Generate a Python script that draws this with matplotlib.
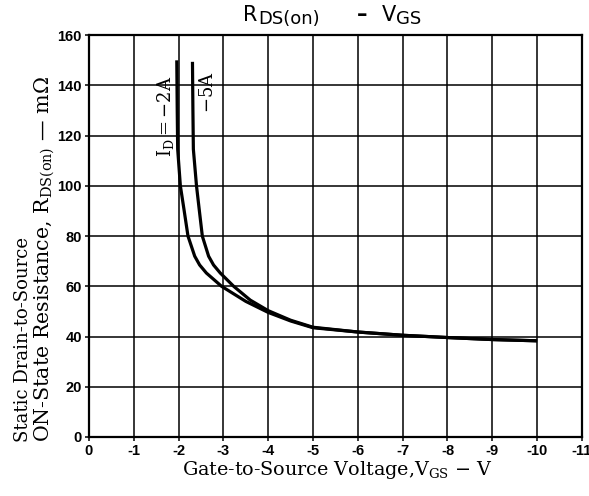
import numpy as np
import matplotlib as mpl
import matplotlib.pyplot as plt

mpl.rcParams['mathtext.fontset'] = 'dejavuserif'

# curve data
vgs_2a = [-1.96, -1.97, -1.98, -2.04, -2.12, -2.21, -2.36, -2.47, -2.62, -2.96, -3.5, -4.0,
          -4.5, -5.0, -6.0, -7.0, -8.0, -9.0, -10.0]
rds_2a = [150, 130, 114.6, 100, 90.7, 80, 72, 68.5, 65.3, 60, 54, 49.6,
          46.2, 43.5, 41.8, 40.5, 39.6, 38.8, 38.3]

vgs_5a = [-2.31, -2.32, -2.33, -2.40, -2.46, -2.53, -2.67, -2.78, -2.93, -3.23, -3.6, -4.0,
          -4.5, -5.0, -6.0, -7.0, -8.0, -9.0, -10.0]
rds_5a = [149.4, 130, 114.6, 100, 90.7, 80, 72, 68.5, 65.3, 60, 54.5, 50.3,
          46.5, 43.7, 41.8, 40.5, 39.6, 38.8, 38.3]

xticks = list(range(0, -12, -1))
xtick_labels = ['0'] + [str(v) for v in xticks[1:]]
yticks = list(range(0, 161, 20))

W, H = 589, 496
fig = plt.figure(figsize=(W / 100, H / 100), dpi=100)
ax = fig.add_axes([0.151, 0.119, 0.837, 0.810])

ax.plot(vgs_2a, rds_2a, color='black', lw=2.3, solid_capstyle='butt', solid_joinstyle='round')
ax.plot(vgs_5a, rds_5a, color='black', lw=2.3, solid_capstyle='butt', solid_joinstyle='round')

ax.set_xlim(0, -11)
ax.set_ylim(0, 160)
ax.set_xticks(xticks)
ax.set_xticklabels(xtick_labels)
ax.set_yticks(yticks)
ax.grid(True, color='black', lw=1.1)
ax.set_axisbelow(True)
for s in ax.spines.values():
    s.set_linewidth(1.6)
ax.tick_params(length=3, width=1.1, direction='out', pad=2)
for lab in ax.get_xticklabels() + ax.get_yticklabels():
    lab.set_fontfamily('Liberation Sans')
    lab.set_fontweight('bold')
    lab.set_fontsize(10.5)

# curve labels
ax.text(-1.70, 127.6, r'$\mathrm{I_D = -2A}$', rotation=90, ha='center', va='center',
        fontsize=13)
ax.text(-2.66, 137.5, r'$\mathrm{-5A}$', rotation=90, ha='center', va='center',
        fontsize=13)

# title, pieces placed in pixel coords
def ftext(x, y, s, **kw):
    fig.text(x / W, 1 - y / H, s, fontfamily='DejaVu Sans', **kw)

ftext(243, 21, 'R', fontsize=15, va='baseline')
ftext(258, 24, 'DS(on)', fontsize=13, va='baseline')
ftext(362, 15, '–', fontsize=15, fontweight='bold', ha='center', va='center')
ftext(382, 21, 'V', fontsize=15, va='baseline')
ftext(396, 24, 'GS', fontsize=13, va='baseline')

fig.text(337 / W, 1 - 470 / H, r'Gate-to-Source Voltage,$\mathrm{V_{GS}}$ $-$ V',
         ha='center', va='center', fontsize=13.8, fontfamily='DejaVu Serif')
fig.text(23 / W, 1 - 442 / H, 'Static Drain-to-Source', rotation=90,
         ha='center', va='bottom', fontsize=13, fontfamily='DejaVu Serif')
fig.text(45 / W, 1 - 442 / H, r'ON-State Resistance, $\mathrm{R_{DS(on)}}$ — m$\Omega$',
         rotation=90, ha='center', va='bottom', fontsize=14.8, fontfamily='DejaVu Serif')

fig.savefig('out.png', dpi=100, facecolor='white')
